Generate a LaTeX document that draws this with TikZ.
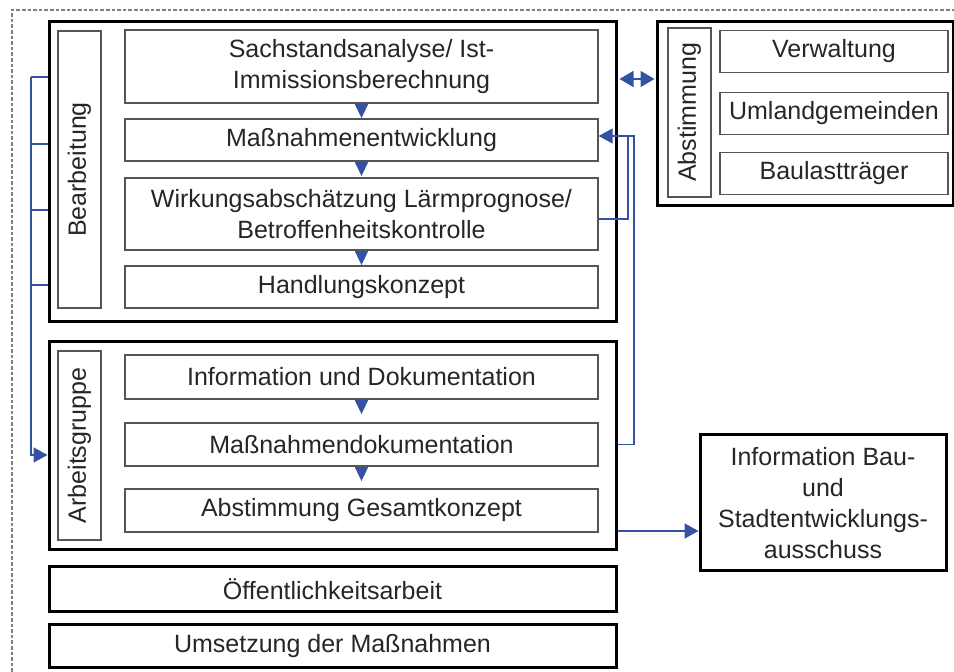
\documentclass[tikz,border=0pt]{standalone}
\usepackage{fontspec}
\setmainfont{Liberation Sans}
\usepackage{xcolor}
\usepackage{tikz}
\usetikzlibrary{arrows.meta}
\definecolor{linkblue}{RGB}{52,82,162}
\definecolor{boxgray}{RGB}{85,85,85}

\begin{document}
\begin{tikzpicture}[x=0.5pt, y=-0.5pt,
    every node/.style={font=\fontsize{12.5}{15.5}\selectfont, text=black!85, align=center, inner sep=1pt},
    group/.style={draw=black, line width=1.5pt, minimum width=283.5pt},
    item/.style={draw=boxgray, line width=0.7pt, minimum width=236.5pt},
    sidebox/.style={draw=boxgray, line width=0.7pt, rotate=90, minimum height=21.5pt},
    member/.style={draw=boxgray, line width=0.7pt, minimum width=114pt, minimum height=21pt},
    link/.style={linkblue, line width=0.8pt},
    headtip/.style={-{Triangle[length=7pt,width=7.5pt]}},
    steptip/.style={linkblue, line width=0.8pt, -{Triangle[length=7pt,width=6.5pt]}}]
  \useasboundingbox (0,0) rectangle (954,672);
  % dashed frame
  \draw[gray, line width=0.6pt, dash pattern=on 1.8pt off 1pt] (12,672) -- (12,10) -- (954,10);
  % Bearbeitung
  \node[group, minimum height=150pt] (bearb) at (332.5,172) {};
  \node[sidebox, minimum width=138.5pt] (bearbL) at (79.5,169.5) {Bearbeitung};
  \node[item, minimum height=36.5pt] (sach) at (361.5,66.5) {Sachstandsanalyse/ Ist-\\Immissionsberechnung};
  \node[item, minimum height=21pt] (massent) at (361.5,140) {Maßnahmenentwicklung};
  \node[item, minimum height=36pt] (wirk) at (361.5,214) {Wirkungsabschätzung Lärmprognose/\\Betroffenheitskontrolle};
  \node[item, minimum height=21pt] (handl) at (361.5,287) {Handlungskonzept};
  % Abstimmung
  \node[group, minimum width=148pt, minimum height=92pt] (abst) at (805,114) {};
  \node[sidebox, minimum width=84.5pt] (abstL) at (689.5,112.5) {Abstimmung};
  \node[member] (verw) at (834,51.5) {Verwaltung};
  \node[member] (umland) at (834,113.5) {Umlandgemeinden};
  \node[member] (baul) at (834,173.5) {Baulastträger};
  % Arbeitsgruppe
  \node[group, minimum height=104pt] (arbeit) at (332.5,446) {};
  \node[sidebox, minimum width=94.5pt] (arbeitL) at (79.5,445.5) {Arbeitsgruppe};
  \node[item, minimum height=22pt] (info) at (361.5,377) {Information und Dokumentation};
  \node[item, minimum height=21.5pt] (massdok) at (361.5,444.5) {Maßnahmendokumentation};
  \node[item, minimum height=21.5pt] (gesamt) at (361.5,510.5) {Abstimmung Gesamtkonzept};
  % bottom rows
  \node[group, minimum height=22.5pt] (oeff) at (332.5,589.5) {Öffentlichkeitsarbeit};
  \node[group, minimum height=21.5pt] (umsetz) at (332.5,646.5) {Umsetzung der Maßnahmen};
  \node[draw=black, line width=1.5pt, minimum width=123pt, minimum height=68pt] (aussch) at (823,503)
      {Information Bau-\\und\\Stadtentwicklungs-\\ausschuss};
  % steps
  \foreach \a in {sach, massent, wirk, info, massdok}
    \draw[steptip] (\a.south) -- ([yshift=-7.2pt]\a.south);
  % left bracket
  \coordinate (lt) at (31,77);
  \coordinate (lb) at (31,455);
  \foreach \y in {77,144,210,285}
    \draw[link] (31,\y) -- (bearb.west |- 31,\y);
  \draw[link, headtip] (lt) -- (lb) -- (lb -| arbeit.west);
  % exchange with Abstimmung
  \coordinate (ex) at (640,79);
  \draw[link, {Triangle[length=7pt,width=8pt]}-{Triangle[length=7pt,width=8pt]}]
      ([xshift=1pt]ex -| bearb.east) -- ([xshift=-0.5pt]ex -| abst.west);
  % feedback
  \coordinate (fb) at (628,136);
  \coordinate (fbo) at (634,136);
  \draw[link] ([yshift=-2.5pt]wirk.east) -| (fb);
  \draw[link] (massdok -| arbeit.east) -| (fbo) -- (fb);
  \draw[link, headtip] (fb) -- (fb -| massent.east);
  % to Ausschuss
  \coordinate (ai) at ([yshift=-14pt]aussch.west);
  \draw[link, headtip] (ai -| arbeit.east) -- (ai);
\end{tikzpicture}
\end{document}
